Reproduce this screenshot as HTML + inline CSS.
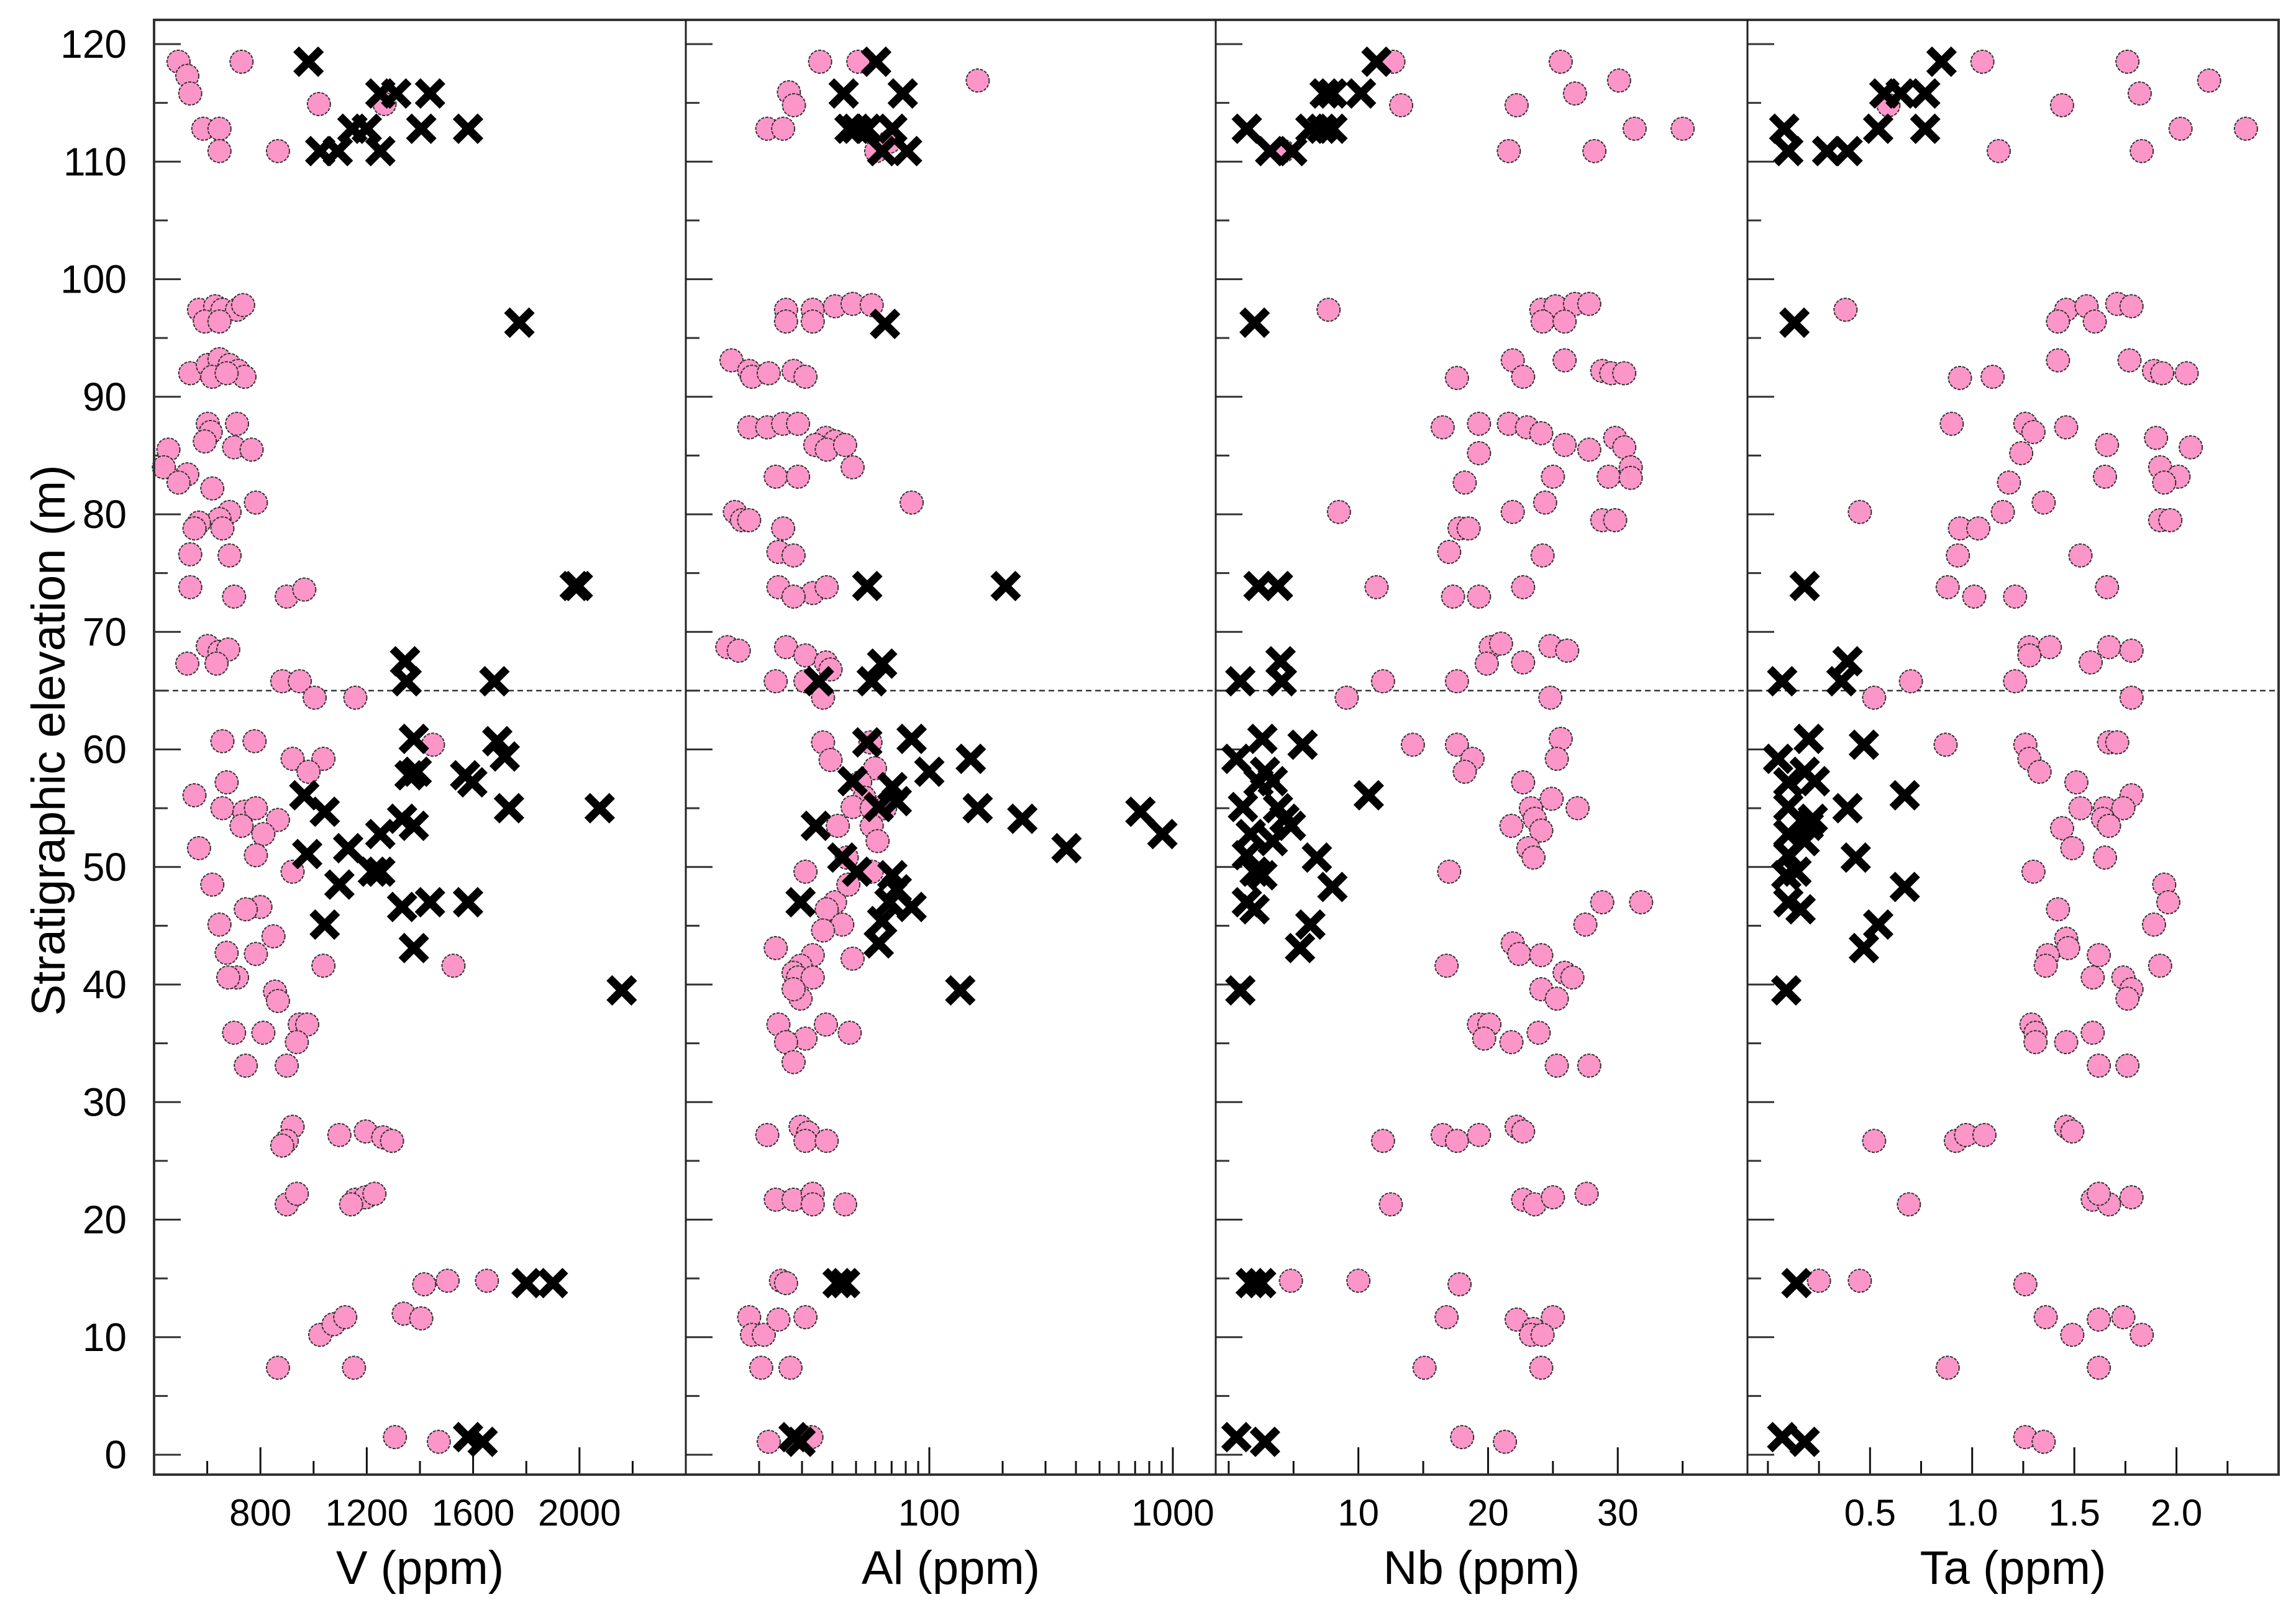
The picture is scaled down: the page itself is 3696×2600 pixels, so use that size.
<!DOCTYPE html>
<html><head><meta charset="utf-8">
<style>
html,body{margin:0;padding:0;background:#fff;}
svg{display:block;font-family:"Liberation Sans",Arial,sans-serif;}
</style></head>
<body>
<svg id="chart" width="3696" height="2600" viewBox="0 0 3696 2600" xmlns="http://www.w3.org/2000/svg">
<g id="plot"></g>
</svg>
<script>
// ---- data: [value, elevation m] ----
const elevTicks = [0,10,20,30,40,50,60,70,80,90,100,110,120];
const boundaryElev = 65;
const vTicks = [800,1200,1600,2000];
const alTicks = [100,1000];
const nbTicks = [10,20,30];
const taTicks = ["0.5","1.0","1.5","2.0"];

const vPink = [[492,118.5],[525,117.3],[536,115.8],[729,118.5],[585,112.8],[646,112.8],[646,110.9],[866,110.9],[1020,114.9],[1267,114.9],
[569,97.4],[630,97.7],[657,97.4],[712,97.4],[735,97.8],[591,96.4],[646,96.4],
[536,92.0],[602,92.7],[646,93.2],[684,92.7],[717,92.2],[740,91.7],[619,91.7],[673,92.0],
[602,87.7],[712,87.7],[613,87.0],[591,86.2],[701,85.7],[767,85.5],
[454,85.5],[437,84.0],[525,83.4],[492,82.7],[619,82.2],[783,81.0],
[684,80.2],[646,79.6],[569,79.3],[552,78.8],[657,78.8],[536,76.6],[684,76.5],
[536,73.8],[701,73.0],[899,73.0],[965,73.6],
[602,68.8],[646,68.3],[679,68.5],[525,67.3],[635,67.3],
[882,65.8],[948,65.8],[1004,64.4],[1157,64.4],
[657,60.7],[778,60.7],[921,59.2],[1037,59.2],[981,58.1],[1449,60.4],[673,57.2],[552,56.1],[657,55.0],[740,54.7],[783,55.0],[729,53.5],[866,54.0],[811,52.8],[569,51.6],[783,51.0],[921,49.6],[619,48.5],[800,46.6],[745,46.4],[646,45.1],[849,44.1],[673,42.7],[783,42.6],[1037,41.6],[1526,41.6],[712,40.6],[679,40.6],[855,39.4],[866,38.6],[948,36.6],[976,36.6],[937,35.1],[701,35.9],[811,35.9],[745,33.1],[899,33.1],
[921,27.9],[899,26.7],[882,26.3],[1097,27.2],[1196,27.5],[1262,27.0],[1295,26.7],
[899,21.3],[937,22.2],[1157,21.7],[1196,21.9],[1229,22.2],[1141,21.3],
[1416,14.5],[1504,14.8],[1652,14.8],
[1025,10.2],[1075,11.1],[1119,11.7],[1339,12.0],[1405,11.6],[1152,7.4],[866,7.4],
[1306,1.5],[1471,1.1]];
const vCross = [[981,118.5],[1251,115.8],[1311,115.8],[1438,115.8],[1025,110.9],[1091,110.9],[1146,112.8],[1251,110.9],[1405,112.8],[1581,112.8],[1200,112.8],
[1774,96.3],[1982,73.9],[1994,73.9],[1344,67.5],[1350,65.8],[1680,65.8],
[1377,60.9],[1691,60.7],[1719,59.4],[1361,57.8],[1388,58.1],[1570,57.8],[1597,57.2],[1735,55.0],[1333,54.1],[1377,53.5],[965,56.1],[1042,54.7],[976,51.1],[1130,51.6],[1251,52.8],[1223,49.6],[1251,49.6],[1097,48.5],[1333,46.6],[1438,47.0],[1581,47.0],[1042,45.1],[1377,43.1],[2076,55.0],[2159,39.5],
[1581,1.5],[1636,1.1],[1801,14.6],[1900,14.6]];

const alPink = [[35.6,118.5],[158,116.9],[26.5,115.9],[27.8,114.8],[21.6,112.8],[25.1,112.8],[51.1,118.5],[60.5,110.9],[68.6,111.7],
[25.8,97.4],[33.2,97.4],[41,97.7],[48.4,97.9],[58,97.8],[25.8,96.4],[33.2,96.4],
[15.4,93.1],[18.2,92.2],[18.7,91.7],[21.9,92.0],[27.7,92.2],[31,91.7],
[18.2,87.4],[21.6,87.4],[25.1,87.7],[28.9,87.7],[37.6,86.5],[41,86.2],[34,85.9],[37.9,85.5],[45.1,85.9],[48.4,84.0],[84.6,81.0],[23.4,83.2],[28.9,83.2],
[15.9,80.2],[17.0,79.5],[18.2,79.5],[25.1,78.8],[24.0,76.8],[27.7,76.5],
[24,73.8],[33.2,73.3],[37.9,73.8],[27.7,73.0],
[14.8,68.7],[16.5,68.4],[25.8,68.7],[31,68.0],[37.6,67.4],[39.3,66.8],
[23.4,65.8],[31,65.8],[36.6,64.4],
[36.6,60.6],[39.3,59.1],[57.3,60.6],[59.8,58.4],[52,57.2],[54.2,55.9],[48.4,55.1],[58,55.0],[65.8,55.0],[58,53.5],[42.1,53.5],[61.3,52.2],[45.8,50.8],[31,49.6],[58,49.6],[41,47.0],[46.5,48.5],[37.9,46.4],[43.9,45.1],[36.6,44.6],[23.4,43.1],[33.2,42.5],[29.6,41.6],[48.4,42.2],[27.7,41.0],[28.9,40.6],[33.2,40.6],[29.6,38.8],[27.7,39.6],[24,36.6],[37.6,36.6],[47.1,35.9],[31,35.4],[25.8,35.1],[27.7,33.4],
[21.6,27.2],[29.6,27.9],[31.8,27.4],[31,26.7],[37.9,26.7],
[23.4,21.7],[27.7,21.7],[33.2,22.2],[45.1,21.3],[33.2,21.3],
[24.6,14.8],[25.8,14.6],
[18.2,11.7],[18.7,10.2],[20.9,10.2],[24,11.5],[20.4,7.4],[26.9,7.4],[31,11.7],
[21.9,1.1],[32.8,1.5]];
const alCross = [[60.5,118.5],[44.5,115.8],[77.8,115.8],[47,112.8],[50,112.8],[55.6,112.8],[70.5,112.8],[81,110.9],[64,110.9],
[65.8,96.2],[55.6,73.9],[206,73.9],[35.2,65.8],[64,67.3],[58,65.8],
[55.6,60.6],[84.6,60.9],[100,58.1],[148,59.2],[70.5,56.8],[48.4,57.3],[73.5,55.6],[62,55.1],[158,55.0],[241,54.1],[736,54.7],[906,52.8],[366,51.6],[34.2,53.5],[43.9,50.8],[50.5,49.6],[70.5,49.3],[73.5,48.1],[68.6,47.0],[84.6,46.6],[64,45.4],[62,43.5],[134,39.5],[29.6,47.0],
[42,14.6],[45.1,14.6],[27.7,1.5],[29.6,1.1]];

const nbPink = [[12.7,118.5],[25.6,118.5],[30.1,116.9],[26.7,115.8],[22.2,114.8],[13.3,114.8],[31.3,112.8],[35.0,112.8],[21.6,110.9],[28.2,110.9],[4.2,110.9],
[7.7,97.4],[24.1,97.4],[25.2,97.7],[26.7,97.9],[27.8,97.9],[24.2,96.4],[25.9,96.4],
[21.9,93.1],[25.9,93.1],[28.8,92.2],[29.5,92.0],[30.5,92.0],[22.7,91.7],[17.6,91.6],
[16.5,87.4],[19.3,87.7],[21.6,87.7],[23.0,87.4],[24.1,86.9],[25.9,85.9],[27.8,85.5],[29.8,86.5],[30.5,85.7],[31,84.0],[29.3,83.2],[31,83.1],[25,83.2],[18.2,82.7],[19.3,85.2],
[8.5,80.2],[21.9,80.2],[24.4,81],[28.8,79.5],[29.8,79.5],[17.8,78.8],[18.5,78.8],[17.0,76.8],[24.2,76.5],
[11.4,73.8],[17.3,73.0],[19.3,73.0],[22.7,73.8],
[20.2,68.7],[21.0,69.0],[24.8,68.8],[26.1,68.4],[22.7,67.4],[19.9,67.3],
[11.9,65.8],[17.6,65.8],[9.1,64.4],[24.8,64.4],
[14.2,60.4],[17.6,60.4],[18.8,59.2],[18.2,58.1],[25.6,60.9],[25.3,59.2],[22.7,57.2],[26.9,55.0],[24.9,55.8],[23.3,55.0],[23.6,54.1],[21.8,53.5],[24.1,53.1],[23.1,51.6],[23.5,50.8],[17.0,49.6],[31.8,47.0],[28.8,47.0],[27.5,45.1],[21.9,43.5],[22.4,42.6],[24.1,42.5],[16.8,41.6],[25.9,41.0],[26.5,40.6],[24.1,39.6],[25.3,38.8],[19.3,36.6],[20.1,36.6],[19.7,35.4],[21.8,35.1],[23.9,35.9],[25.3,33.1],[27.8,33.1],
[11.9,26.7],[16.5,27.2],[17.6,26.7],[19.3,27.2],[22.2,27.9],[22.7,27.5],
[12.5,21.3],[22.7,21.7],[23.6,21.3],[25,21.9],[27.6,22.2],
[4.8,14.8],[10,14.8],[17.8,14.5],
[16.8,11.7],[22.2,11.5],[23.5,10.7],[25,11.7],[23.3,10.2],[24.2,10.2],[15.1,7.4],[24.1,7.4],
[18,1.5],[21.3,1.1]];
const nbCross = [[1.4,112.8],[3.2,110.9],[4.9,110.9],[6.3,112.8],[7.2,112.8],[8,112.8],[7.4,115.8],[8,115.8],[10.2,115.8],[11.4,118.5],
[2.0,96.3],[2.3,73.9],[3.8,73.9],[4.0,67.5],[0.9,65.8],[4.1,65.8],
[2.6,60.9],[5.7,60.4],[0.6,59.2],[2.8,58.1],[2.3,57.2],[3.4,57.3],[1.1,55.1],[3.8,55.0],[4.3,54.1],[4.8,53.5],[1.7,52.8],[3.4,52.2],[1.4,51.0],[2.0,49.6],[2.6,49.3],[6.8,50.8],[8,48.3],[1.4,47.0],[2.0,46.4],[6.3,45.1],[5.5,43.1],[0.9,39.5],[10.8,56.1],
[1.7,14.6],[2.5,14.6],[0.6,1.5],[2.8,1.1]];

const taPink = [[1.05,118.5],[1.76,118.5],[2.16,116.9],[1.82,115.8],[1.44,114.8],[0.59,114.8],[2.02,112.8],[2.34,112.8],[1.13,110.9],[1.83,110.9],
[0.38,97.4],[1.46,97.4],[1.56,97.7],[1.71,97.9],[1.78,97.7],[1.42,96.4],[1.60,96.4],
[1.42,93.1],[1.77,93.1],[1.89,92.2],[1.93,92.0],[2.05,92.0],[1.10,91.7],[0.94,91.6],
[0.90,87.7],[1.26,87.7],[1.30,87.0],[1.46,87.4],[1.66,85.9],[1.24,85.2],[1.90,86.5],[2.07,85.7],[1.92,84.0],[2.01,83.2],[1.94,82.7],[1.65,83.2],[1.18,82.7],
[1.15,80.2],[0.45,80.2],[1.35,81.0],[1.92,79.5],[1.97,79.5],[0.94,78.8],[1.03,78.8],[0.93,76.5],[1.53,76.5],[1.66,73.8],
[0.88,73.8],[1.01,73.0],[1.21,73.0],
[1.28,68.7],[1.38,68.7],[1.67,68.7],[1.78,68.4],[1.28,68.0],[1.58,67.4],
[0.70,65.8],[1.21,65.8],[0.52,64.4],[1.78,64.4],
[0.87,60.4],[1.26,60.4],[1.28,59.2],[1.33,58.1],[1.67,60.6],[1.71,60.6],[1.51,57.2],[1.78,56.1],[1.53,55.0],[1.65,55.0],[1.74,55.0],[1.64,54.1],[1.67,53.5],[1.44,53.3],[1.49,51.6],[1.65,50.8],[1.30,49.6],[1.94,48.5],[1.96,47.0],[1.42,46.4],[1.89,45.1],[1.46,43.9],[1.47,43.1],[1.37,42.5],[1.62,42.5],[1.36,41.6],[1.92,41.6],[1.59,40.6],[1.74,40.6],[1.78,39.6],[1.76,38.8],[1.29,36.6],[1.31,35.9],[1.31,35.1],[1.46,35.1],[1.59,35.9],[1.62,33.1],[1.76,33.1],
[0.92,26.7],[0.97,27.2],[1.06,27.2],[1.46,27.9],[1.49,27.5],[0.52,26.7],
[0.69,21.3],[1.59,21.7],[1.67,21.3],[1.78,21.9],[1.62,22.2],
[0.25,14.8],[0.45,14.8],[1.26,14.5],
[1.36,11.7],[1.49,10.2],[1.62,11.5],[1.74,11.7],[1.83,10.2],[0.88,7.4],[1.62,7.4],
[1.26,1.5],[1.35,1.1]];
const taCross = [[0.08,112.8],[0.10,110.9],[0.29,110.9],[0.39,110.9],[0.54,112.8],[0.57,115.8],[0.65,115.8],[0.77,115.8],[0.85,118.5],[0.77,112.8],
[0.13,96.3],[0.18,73.9],[0.39,67.5],[0.36,65.8],[0.07,65.8],
[0.20,60.9],[0.47,60.4],[0.05,59.2],[0.18,58.1],[0.23,57.3],[0.10,57.2],[0.67,56.1],[0.10,55.1],[0.39,55.0],[0.22,54.1],[0.20,53.5],[0.10,52.8],[0.18,52.2],[0.10,51.0],[0.43,50.8],[0.14,49.6],[0.09,49.3],[0.67,48.3],[0.10,47.0],[0.16,46.4],[0.54,45.1],[0.47,43.1],[0.09,39.5],
[0.14,14.6],[0.07,1.5],[0.18,1.1]];

// ---- layout ----
const NS = "http://www.w3.org/2000/svg";
const g = document.getElementById('plot');
const TOP = 32, BOT = 2374, Y0 = 2342, PX10 = 189.25;
function yScale(e){ return Y0 - e*PX10/10; }
function linScale(a,b,d0,d1){ return v => a + (v-d0)/(d1-d0)*(b-a); }
function logScale(a,b,d0,d1){ return v => a + (Math.log10(v)-Math.log10(d0))/(Math.log10(d1)-Math.log10(d0))*(b-a); }
const panels = [
 {name:'v', x0:248, x1:1104, sx:linScale(248,1104,400,2400), pink:vPink, cross:vCross, title:'V (ppm)',
  major:vTicks.map(Number), labels:vTicks.map(String), minor:[600,1000,1400,1800,2200]},
 {name:'al', x0:1104, x1:1957, sx:logScale(1104,1957,10,1500), pink:alPink, cross:alCross, title:'Al (ppm)',
  major:alTicks, labels:alTicks.map(String), minor:[20,30,40,50,60,70,80,90,200,300,400,500,600,700,800,900]},
 {name:'nb', x0:1957, x1:2813, sx:linScale(1957,2813,-1,40), pink:nbPink, cross:nbCross, title:'Nb (ppm)',
  major:nbTicks, labels:nbTicks.map(String), minor:[0,5,15,25,35]},
 {name:'ta', x0:2813, x1:3668, sx:linScale(2813,3668,-0.1,2.5), pink:taPink, cross:taCross, title:'Ta (ppm)',
  major:taTicks.map(Number), labels:taTicks, minor:[0,0.25,0.75,1.25,1.75,2.25]}
];
function mk(tag, attrs){ const e=document.createElementNS(NS,tag); for(const k in attrs) e.setAttribute(k,attrs[k]); g.appendChild(e); return e; }

panels.forEach(p=>{
  const bg = mk('rect',{x:p.x0,y:TOP,width:p.x1-p.x0,height:BOT-TOP,fill:'#fff'});
  
  
  // y ticks
  elevTicks.forEach(e=>{
    const t = mk('line',{x1:p.x0,x2:p.x0+43,y1:yScale(e),y2:yScale(e),stroke:'#333','stroke-width':3});
    
    
    if(e<120){
      const m = mk('line',{x1:p.x0,x2:p.x0+22,y1:yScale(e+5),y2:yScale(e+5),stroke:'#333','stroke-width':3});
      
      
    }
  });
  // x ticks
  p.major.forEach((v,i)=>{
    const x = p.sx(v);
    const t = mk('line',{x1:x,x2:x,y1:BOT,y2:BOT-44,stroke:'#111','stroke-width':3});
    
    
    const lb = mk('text',{x:x,y:2456,'font-size':60,'text-anchor':'middle',fill:'#000'});
    lb.textContent = p.labels[i];
    
    
  });
  p.minor.forEach(v=>{
    const x = p.sx(v);
    const t = mk('line',{x1:x,x2:x,y1:BOT,y2:BOT-22,stroke:'#111','stroke-width':3});
    
    
  });
  const tt = mk('text',{x:(p.x0+p.x1)/2,y:2550,'font-size':76,'text-anchor':'middle',fill:'#000'});
  tt.textContent = p.title;
  
  
});

// boundary line
const bl = mk('line',{x1:248,x2:3668,y1:yScale(boundaryElev),y2:yScale(boundaryElev),stroke:'#333','stroke-width':2.5,'stroke-dasharray':'9 6'});



// markers
panels.forEach(p=>{
  p.pink.forEach(d=>{
    const c = mk('circle',{cx:p.sx(d[0]),cy:yScale(d[1]),r:18.5,fill:'#fd96c8',stroke:'#333','stroke-width':2,'stroke-dasharray':'5 2'});
    
    
  });
  p.cross.forEach(d=>{
    const x=p.sx(d[0]), y=yScale(d[1]), h=20;
    const c = mk('path',{d:`M${x-h},${y-h}L${x+h},${y+h}M${x-h},${y+h}L${x+h},${y-h}`,stroke:'#000','stroke-width':13,fill:'none'});
    
    
  });
});

// y tick labels
elevTicks.forEach(e=>{
  const t = mk('text',{x:204,y:yScale(e)+22,'font-size':64,'text-anchor':'end',fill:'#000'});
  t.textContent = String(e);
  
  
});
const yt = mk('text',{x:0,y:0,'font-size':76,'text-anchor':'middle',fill:'#000',transform:'translate(104,1192) rotate(-90)'});
yt.textContent = 'Stratigraphic elevation (m)';



// frame + dividers
const fr = mk('rect',{x:248,y:TOP,width:3668-248,height:BOT-TOP,fill:'none',stroke:'#333','stroke-width':4});


[1104,1957,2813].forEach(x=>{
  const d = mk('line',{x1:x,x2:x,y1:TOP,y2:BOT,stroke:'#222','stroke-width':3});
  
  
});
</script>
</body></html>
